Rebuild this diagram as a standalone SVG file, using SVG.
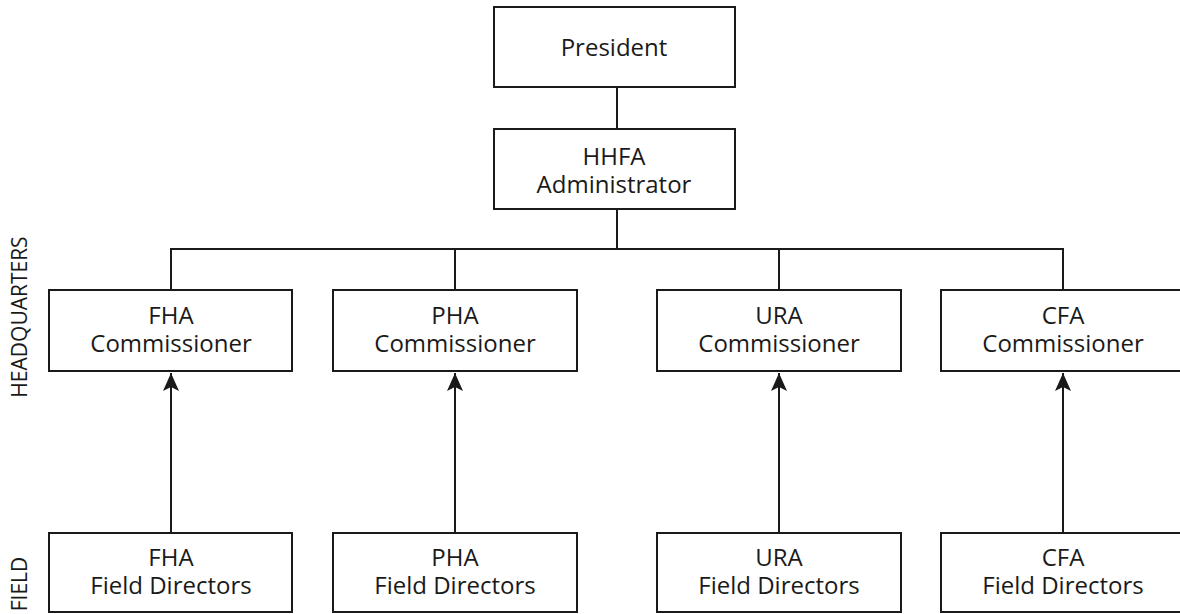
<svg xmlns="http://www.w3.org/2000/svg" width="1180" height="614" viewBox="0 0 1180 614">
<style>
.box{fill:#fff;stroke:#1a1a1a;stroke-width:2}
.t{font-family:"Open Sans","Noto Sans",sans-serif;font-size:24px;fill:#1a1a1a;text-anchor:middle}
.side{font-family:"Open Sans","Noto Sans",sans-serif;font-size:21px;fill:#1a1a1a;text-anchor:middle}
.ln{fill:none;stroke:#1a1a1a;stroke-width:2}
</style>
<defs>
<marker id="ah" viewBox="0 0 18 16" refX="18" refY="8" markerWidth="18" markerHeight="16" markerUnits="userSpaceOnUse" orient="auto">
<path d="M18,8 L0,0 L4,8 L0,16 Z" fill="#1a1a1a"/>
</marker>
</defs>
<g id="connectors">
<line class="ln" x1="617" y1="87" x2="617" y2="129"/>
<line class="ln" x1="617" y1="209" x2="617" y2="249"/>
<line class="ln" x1="170" y1="249" x2="1064" y2="249"/>
<line class="ln" x1="171" y1="249" x2="171" y2="290"/>
<line class="ln" x1="455" y1="249" x2="455" y2="290"/>
<line class="ln" x1="779" y1="249" x2="779" y2="290"/>
<line class="ln" x1="1063" y1="249" x2="1063" y2="290"/>
<path class="ln" d="M171,533 V373" marker-end="url(#ah)"/>
<path class="ln" d="M455,533 V373" marker-end="url(#ah)"/>
<path class="ln" d="M779,533 V373" marker-end="url(#ah)"/>
<path class="ln" d="M1063,533 V373" marker-end="url(#ah)"/>
</g>
<g id="labels">
<text class="side" transform="translate(27,317) rotate(-90)">HEADQUARTERS</text>
<text class="side" transform="translate(27,584) rotate(-90)">FIELD</text>
</g>
<g id="president"><rect class="box" x="494" y="7" width="241" height="80"/><text class="t" x="614" y="56">President</text></g>
<g id="hhfa"><rect class="box" x="494" y="129" width="241" height="80"/><text class="t" x="614" y="165">HHFA</text><text class="t" x="614" y="193">Administrator</text></g>
<g id="fha-comm"><rect class="box" x="49" y="290" width="243" height="81"/><text class="t" x="171" y="324">FHA</text><text class="t" x="171" y="352">Commissioner</text></g>
<g id="pha-comm"><rect class="box" x="333" y="290" width="244" height="81"/><text class="t" x="455" y="324">PHA</text><text class="t" x="455" y="352">Commissioner</text></g>
<g id="ura-comm"><rect class="box" x="657" y="290" width="244" height="81"/><text class="t" x="779" y="324">URA</text><text class="t" x="779" y="352">Commissioner</text></g>
<g id="cfa-comm"><rect class="box" x="941" y="290" width="244" height="81"/><text class="t" x="1063" y="324">CFA</text><text class="t" x="1063" y="352">Commissioner</text></g>
<g id="fha-field"><rect class="box" x="49" y="533" width="243" height="79"/><text class="t" x="171" y="566">FHA</text><text class="t" x="171" y="594">Field Directors</text></g>
<g id="pha-field"><rect class="box" x="333" y="533" width="244" height="79"/><text class="t" x="455" y="566">PHA</text><text class="t" x="455" y="594">Field Directors</text></g>
<g id="ura-field"><rect class="box" x="657" y="533" width="244" height="79"/><text class="t" x="779" y="566">URA</text><text class="t" x="779" y="594">Field Directors</text></g>
<g id="cfa-field"><rect class="box" x="941" y="533" width="244" height="79"/><text class="t" x="1063" y="566">CFA</text><text class="t" x="1063" y="594">Field Directors</text></g>
</svg>
